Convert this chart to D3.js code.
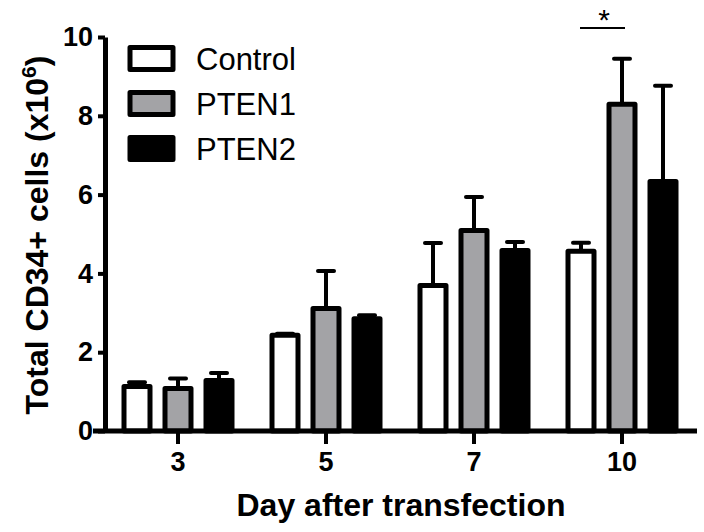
<!DOCTYPE html>
<html>
<head>
	<title>CD34+ cells</title>
	<script src="https://d3js.org/d3.v7.min.js"></script>
	<style>
	body { margin: 0; background: #fff; }
	text { font-family: Arial, "Liberation Sans", sans-serif; }
	</style>
</head>
<body>
</body>

<script type="text/javascript">

// data
const days = ["3", "5", "7", "10"]
const series = ["Control", "PTEN1", "PTEN2"]
const fills = ["#ffffff", "#a3a3a6", "#000000"]

const control = [1.13, 2.43, 3.69, 4.56]
const controlErr = [0.11, 0.04, 1.08, 0.22]
const pten1 = [1.08, 3.11, 5.09, 8.29]
const pten1Err = [0.25, 0.95, 0.85, 1.16]
const pten2 = [1.28, 2.85, 4.58, 6.33]
const pten2Err = [0.19, 0.09, 0.22, 2.43]

const yTicks = [0, 2, 4, 6, 8, 10]

const values = [control, pten1, pten2]
const errors = [controlErr, pten1Err, pten2Err]

// set svg
const width = 704
const height = 532

const svg = d3.select("body").append("svg")
		.attr("width", width)
		.attr("height", height)

const x = d3.scaleBand()
		.domain(days)
		.range([104, 696])
		.padding(0)

const inner = d3.scaleBand()
		.domain(series)
		.range([-61.5, 61.5])

const y = d3.scaleLinear()
		.domain([0, 10])
		.range([431, 37])

const barW = 26

// bars
for (let s = 0; s < series.length; s++) {
	const g = svg.append("g")

	const rows = days.map(function(d, i) {
		return {day: d, v: values[s][i], e: errors[s][i]}
	})

	const cx = function(d) {
		return x(d.day) + x.bandwidth() / 2 + inner(series[s]) + inner.bandwidth() / 2
	}

	// error bars (upper only)
	g.selectAll("line.stem")
		.data(rows)
		.enter()
		.append("line")
		.attr("x1", cx)
		.attr("x2", cx)
		.attr("y1", function(d) { return y(d.v) })
		.attr("y2", function(d) { return y(d.v + d.e) })
		.attr("stroke", "#000")
		.attr("stroke-width", 4)

	g.selectAll("line.cap")
		.data(rows)
		.enter()
		.append("line")
		.attr("x1", function(d) { return cx(d) - 8 })
		.attr("x2", function(d) { return cx(d) + 8 })
		.attr("y1", function(d) { return y(d.v + d.e) })
		.attr("y2", function(d) { return y(d.v + d.e) })
		.attr("stroke", "#000")
		.attr("stroke-width", 4)
		.attr("stroke-linecap", "round")

	g.selectAll("rect")
		.data(rows)
		.enter()
		.append("rect")
		.attr("x", function(d) { return cx(d) - barW / 2 })
		.attr("width", barW)
		.attr("y", function(d) { return y(d.v) })
		.attr("height", function(d) { return y(0) - y(d.v) })
		.attr("fill", fills[s])
		.attr("stroke", "#000")
		.attr("stroke-width", 5)
		.attr("stroke-linejoin", "round")
}

// y axis
const yAxis = svg.append("g")
		.attr("transform", "translate(105,0)")
		.call(d3.axisLeft(y).tickValues(yTicks).tickSize(7).tickSizeOuter(0).tickPadding(5))

yAxis.select(".domain").attr("stroke-width", 5)
yAxis.selectAll(".tick line").attr("stroke-width", 4)
yAxis.selectAll(".tick text")
		.attr("font-size", "27px")
		.attr("font-weight", "bold")
		.attr("fill", "#000")

// x axis
const xAxis = svg.append("g")
		.attr("transform", "translate(0,431)")
		.call(d3.axisBottom(x).tickSize(13).tickSizeOuter(0).tickPadding(8))

xAxis.select(".domain").attr("d", "M93,0H697").attr("stroke-width", 5)
xAxis.selectAll(".tick line").attr("stroke-width", 4)
xAxis.selectAll(".tick text")
		.attr("font-size", "27px")
		.attr("font-weight", "bold")
		.attr("fill", "#000")

// axis titles
svg.append("text")
		.attr("x", 401)
		.attr("y", 516)
		.attr("text-anchor", "middle")
		.attr("font-size", "32px")
		.attr("font-weight", "bold")
		.text("Day after transfection")

const yTitle = svg.append("text")
		.attr("transform", "translate(48,235) rotate(-90)")
		.attr("text-anchor", "middle")
		.attr("font-size", "32px")
		.attr("font-weight", "bold")

yTitle.append("tspan").text("Total CD34+ cells (x10")
yTitle.append("tspan").attr("font-size", "21px").attr("dy", "-12").text("6")
yTitle.append("tspan").attr("dy", "12").text(")")

// legend
const legend = svg.append("g")

legend.selectAll("rect")
		.data(series)
		.enter()
		.append("rect")
		.attr("x", 130)
		.attr("y", function(d, i) { return 47.5 + i * 45 })
		.attr("width", 43)
		.attr("height", 22)
		.attr("fill", function(d, i) { return fills[i] })
		.attr("stroke", "#000")
		.attr("stroke-width", 5)
		.attr("stroke-linejoin", "round")

legend.selectAll("text")
		.data(series)
		.enter()
		.append("text")
		.attr("x", 196)
		.attr("y", function(d, i) { return 70 + i * 45 })
		.attr("font-size", "31px")
		.text(function(d) { return d })

// significance mark on day 10 (Control vs PTEN1)
const sigX = x("10") + x.bandwidth() / 2
svg.append("line")
		.attr("x1", sigX - 42)
		.attr("x2", sigX + 3)
		.attr("y1", 28)
		.attr("y2", 28)
		.attr("stroke", "#000")
		.attr("stroke-width", 2)

svg.append("text")
		.attr("x", sigX - 18)
		.attr("y", 30)
		.attr("text-anchor", "middle")
		.attr("font-size", "30px")
		.text("*")

</script>
</html>
